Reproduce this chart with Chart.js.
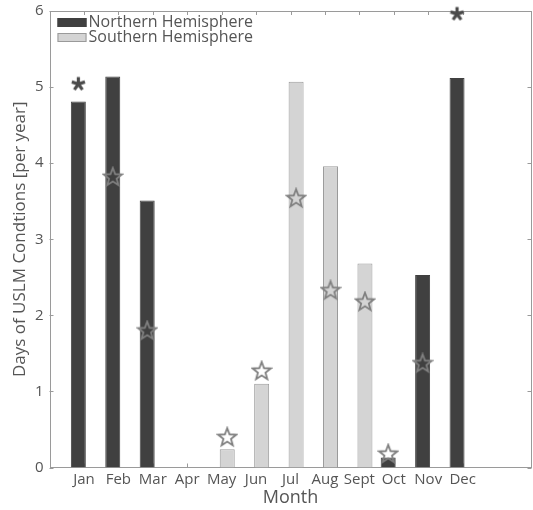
<!DOCTYPE html>
<html>
<head>
<meta charset="utf-8">
<script src="https://cdn.jsdelivr.net/npm/chart.js@4.4.1/dist/chart.umd.min.js"></script>
<style>
  html, body { margin: 0; padding: 0; background: #fff; overflow: hidden; }
  #wrap { position: relative; width: 533px; height: 510px; }
  #uslm { display: block; }
</style>
</head>
<body>
<div id="wrap"><canvas id="uslm"></canvas></div>
<script>
// USLM 條件天數（每年）・南北半球逐月
const MONTHS = ['Jan', 'Feb', 'Mar', 'Apr', 'May', 'Jun', 'Jul', 'Aug', 'Sept', 'Oct', 'Nov', 'Dec'];

// 長條：北半球 / 南半球（null = 該月屬另一半球）
const NORTH_DAYS = [4.81, 5.14, 3.51, null, null, null, null, null, null, 0.13, 2.53, 5.12];
const SOUTH_DAYS = [null, null, null, null, 0.24, 1.10, 5.07, 3.96, 2.68, null, null, null];

// 星號標記（五角星）與米字標記
const NORTH_STARS = [null, 3.82, 1.80, null, null, null, null, null, null, 0.18, 1.37, null];
const SOUTH_STARS = [null, null, null, null, 0.40, 1.27, 3.54, 2.33, 2.18, null, null, null];
const NORTH_ASTERISKS = [5.04, null, null, null, null, null, null, null, null, null, null, 5.96];

const Y_TICKS = [0, 1, 2, 3, 4, 5, 6];

const FONT = "'Open Sans', 'DejaVu Sans', sans-serif";
const TEXT = '#555555';
const AXIS = '#9a9a9a';
const DARK = '#404040';
const LIGHT = '#d4d4d4';
const LIGHT_EDGE = '#9a9a9a';

// 兩組並排長條：每月寬度比例，標記依此偏移到各自長條中央
const CATEGORY_PCT = 0.65;
const GROUP_OFFSET = CATEGORY_PCT / 4;

// 五角星（空心）標記圖
function makePentagram(size, color, lw) {
  const c = document.createElement('canvas');
  c.width = c.height = size;
  const g = c.getContext('2d');
  const cx = size / 2, cy = size / 2 + 0.5;
  const ro = size / 2 - 1.5, ri = ro * 0.42;
  g.beginPath();
  for (let k = 0; k < 10; k++) {
    const r = k % 2 ? ri : ro;
    const a = -Math.PI / 2 + k * Math.PI / 5;
    const px = cx + r * Math.cos(a), py = cy + r * Math.sin(a);
    k ? g.lineTo(px, py) : g.moveTo(px, py);
  }
  g.closePath();
  g.strokeStyle = color;
  g.lineWidth = lw;
  g.lineJoin = 'miter';
  g.stroke();
  return c;
}

// 五臂米字標記圖
function makeAsterisk(size, color, lw) {
  const c = document.createElement('canvas');
  c.width = c.height = size;
  const g = c.getContext('2d');
  const cx = size / 2, cy = size / 2;
  const r = size / 2 - lw / 2;
  g.beginPath();
  for (let k = 0; k < 5; k++) {
    const a = -Math.PI / 2 + k * 2 * Math.PI / 5;
    g.moveTo(cx, cy);
    g.lineTo(cx + r * Math.cos(a), cy + r * Math.sin(a));
  }
  g.strokeStyle = color;
  g.lineWidth = lw;
  g.lineCap = 'butt';
  g.stroke();
  return c;
}

const STAR_IMG = makePentagram(22, '#808080', 1.8);
const ASTERISK_IMG = makeAsterisk(17, '#4a4a4a', 3.2);

const toPoints = (vals, shift) => vals.map((v, i) => ({ x: i + 1 + shift, y: v }));

// 外框 + 內向刻度（上下左右）
const frameTicks = {
  id: 'frameTicks',
  beforeDatasetsDraw(chart) {
    const { ctx, chartArea: a, scales: { x, y } } = chart;
    const TL = 4;
    ctx.save();
    ctx.strokeStyle = AXIS;
    ctx.lineWidth = 1;
    ctx.strokeRect(Math.round(a.left) + 0.5, Math.round(a.top) + 0.5,
      Math.round(a.width) - 1, Math.round(a.height) - 1);
    ctx.beginPath();
    x.ticks.forEach((t) => {
      const px = Math.round(x.getPixelForValue(t.value)) + 0.5;
      ctx.moveTo(px, a.bottom); ctx.lineTo(px, a.bottom - TL);
      ctx.moveTo(px, a.top); ctx.lineTo(px, a.top + TL);
    });
    y.ticks.forEach((t) => {
      const py = Math.round(y.getPixelForValue(t.value)) + 0.5;
      ctx.moveTo(a.left, py); ctx.lineTo(a.left + TL, py);
      ctx.moveTo(a.right, py); ctx.lineTo(a.right - TL, py);
    });
    ctx.stroke();
    ctx.restore();
  },
};

// 圖例畫在繪圖區左上角（無外框）
const insideLegend = {
  id: 'insideLegend',
  afterDatasetsDraw(chart) {
    const { ctx, chartArea: a } = chart;
    const bars = chart.data.datasets.filter((d) => d.type === 'bar');
    ctx.save();
    ctx.font = `16px ${FONT}`;
    ctx.textBaseline = 'middle';
    bars.forEach((d, i) => {
      const cy = a.top + 11.5 + i * 15;
      ctx.fillStyle = d.backgroundColor;
      ctx.fillRect(a.left + 8, cy - 4.5, 29, 9);
      ctx.strokeStyle = d.borderColor;
      ctx.lineWidth = 1;
      ctx.strokeRect(a.left + 8.5, cy - 4, 28, 8);
      ctx.fillStyle = TEXT;
      ctx.fillText(d.label, a.left + 39, cy);
    });
    ctx.restore();
  },
};

const barSet = (label, vals, fill, edge) => ({
  type: 'bar',
  label,
  data: toPoints(vals, 0),
  backgroundColor: fill,
  borderColor: edge,
  borderWidth: 1,
  categoryPercentage: CATEGORY_PCT,
  barPercentage: 1.34,
  order: 2,
});

const markerSet = (vals, shift, img) => ({
  type: 'scatter',
  data: toPoints(vals, shift),
  pointStyle: img,
  pointRadius: 10,
  clip: false,
  order: 1,
});

new Chart(document.getElementById('uslm'), {
  type: 'bar',
  data: {
    datasets: [
      barSet('Northern Hemisphere', NORTH_DAYS, DARK, DARK),
      barSet('Southern Hemisphere', SOUTH_DAYS, LIGHT, LIGHT_EDGE),
      markerSet(NORTH_STARS, -GROUP_OFFSET, STAR_IMG),
      markerSet(SOUTH_STARS, GROUP_OFFSET, STAR_IMG),
      markerSet(NORTH_ASTERISKS, -GROUP_OFFSET, ASTERISK_IMG),
    ],
  },
  options: {
    responsive: true,
    maintainAspectRatio: false,
    animation: false,
    events: [],
    // 標記不需預留空間（Dec 的米字可以壓在上框線上）
    layout: { autoPadding: false, padding: { top: 11, right: 1.5, bottom: 0, left: 0 } },
    plugins: {
      legend: { display: false },
      tooltip: { enabled: false },
    },
    scales: {
      x: {
        type: 'linear',
        offset: false,
        min: 0,
        max: 14,
        afterBuildTicks: (s) => { s.ticks = MONTHS.map((m, i) => ({ value: i + 1 })); },
        // 月份刻度離兩端很遠，不需要為首末標籤預留邊距
        afterFit: (s) => { s.height = 42.5; s.paddingLeft = 0; s.paddingRight = 0; },
        grid: { display: false, drawTicks: false, offset: false },
        border: { display: false },
        ticks: {
          autoSkip: false,
          maxRotation: 0,
          padding: 3,
          color: TEXT,
          font: { family: FONT, size: 15 },
          callback: (v) => MONTHS[v - 1],
        },
        title: {
          display: true,
          text: 'Month',
          color: TEXT,
          font: { family: FONT, size: 18 },
          padding: { top: 0, bottom: 1 },
        },
      },
      y: {
        min: 0,
        max: 6,
        afterBuildTicks: (s) => { s.ticks = Y_TICKS.map((v) => ({ value: v })); },
        afterFit: (s) => { s.width = 49.5; s.paddingTop = 0; s.paddingBottom = 0; },
        grid: { display: false, drawTicks: false },
        border: { display: false },
        ticks: {
          padding: 6,
          color: TEXT,
          font: { family: FONT, size: 15 },
        },
        title: {
          display: true,
          text: 'Days of USLM Condtions [per year]',
          color: TEXT,
          font: { family: FONT, size: 17 },
          padding: { top: 10, bottom: 0 },
        },
      },
    },
  },
  plugins: [frameTicks, insideLegend],
});
</script>
</body>
</html>
